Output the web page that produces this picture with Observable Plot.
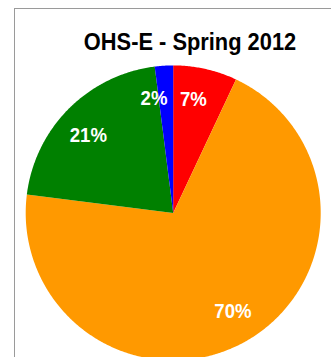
<!DOCTYPE html>
<html><head><meta charset="utf-8">
<script src="https://cdn.jsdelivr.net/npm/d3@7"></script>
<script src="https://cdn.jsdelivr.net/npm/@observablehq/plot@0.6"></script>
<style>
html,body{margin:0;padding:0;overflow:hidden;background:#fff;}
#wrap{position:relative;width:331px;height:357px;overflow:hidden;}
#border{position:absolute;left:14px;top:8px;width:400px;height:400px;border-left:1px solid #9a9a9a;border-top:1px solid #9a9a9a;}
#wrap svg{position:absolute;left:0;top:0;}
</style></head><body>
<div id="wrap"><div id="border"></div></div>
<script>
const title = "OHS-E - Spring 2012";
const categories = ["A", "B", "C", "D"];
const values = [7, 70, 21, 2];
const colors = ["#ff0000", "#ff9900", "#008000", "#0000ff"];

const rows = categories.map((name, i) => ({name, value: values[i]}));
const total = d3.sum(values);
const arcs = d3.pie().sort(null).value(d => d.value)(rows);

const pts = [];
for (const a of arcs) {
  const name = a.data.name;
  pts.push({name, x: 0, y: 0});
  const n = Math.max(2, Math.ceil((a.endAngle - a.startAngle) / (Math.PI / 360)));
  for (let i = 0; i <= n; i++) {
    const t = a.startAngle + (a.endAngle - a.startAngle) * i / n;
    pts.push({name, x: Math.sin(t), y: Math.cos(t)});
  }
}
const labelR = 0.78, labelShift = -2.5 * Math.PI / 180;
const labels = arcs.map(a => {
  const m = (a.startAngle + a.endAngle) / 2 + labelShift;
  return {
    name: a.data.name,
    x: labelR * Math.sin(m),
    y: labelR * Math.cos(m),
    text: Math.round(a.data.value / total * 100) + "%",
    small: a.data.value / total < 0.05
  };
});

const cx = 172.7, cy = 212.4, r = 147.5;
const font = "'Liberation Sans', Arial, sans-serif";
const plot = Plot.plot({
  width: 331, height: 357, margin: 0,
  x: {domain: [-1, 1], range: [cx - r, cx + r], axis: null},
  y: {domain: [-1, 1], range: [cy + r, cy - r], axis: null},
  color: {domain: categories, range: colors},
  style: {background: "transparent", overflow: "hidden"},
  marks: [
    Plot.line(pts, {x: "x", y: "y", z: "name", fill: "name", stroke: "none", curve: "linear-closed"}),
    Plot.text(labels.filter(d => !d.small), {x: "x", y: "y", text: "text", fill: "white", fontSize: 20, fontWeight: "bold", fontFamily: font}),
    Plot.text(labels.filter(d => d.small), {x: "x", y: "y", text: "text", dx: -7, fill: "white", fontSize: 20, fontWeight: "bold", fontFamily: font}),
    Plot.text([title], {frameAnchor: "top", dx: 24, dy: 42.5, lineAnchor: "middle", text: d => d, fill: "black", fontSize: 23, fontWeight: "bold", fontFamily: font})
  ]
});
// condense glyphs horizontally (narrow face not installed)
d3.select(plot).selectAll("text").each(function() {
  const el = d3.select(this);
  const k = this.textContent === title ? 0.95 : 0.93;
  el.attr("transform", (el.attr("transform") || "") + ` scale(${k},1)`);
});
document.getElementById("wrap").appendChild(plot);
</script>
</body></html>
